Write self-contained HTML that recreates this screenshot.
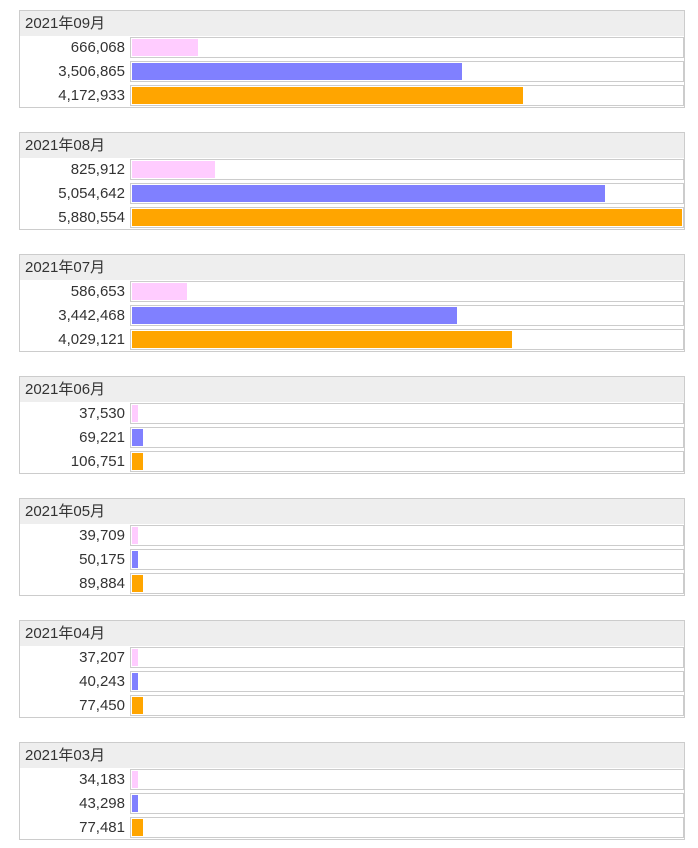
<!DOCTYPE html>
<html><head><meta charset="utf-8"><style>
body{margin:0;background:#fff;font-family:"Liberation Sans","Noto Sans CJK JP",sans-serif;color:#333;}
.g{position:absolute;left:19px;width:664px;height:96px;border:1px solid #ccc;}
.h{position:absolute;left:0;top:0;width:664px;height:25px;background:#eee;font-size:15px;line-height:25px;padding-left:5px;box-sizing:border-box;}
.lab{position:absolute;right:559px;font-size:15px;line-height:24px;text-align:right;white-space:nowrap;}
.tr{position:absolute;left:110px;width:552px;height:19px;border:1px solid #ccc;background:#fff;}
.b{position:absolute;left:1px;top:1px;height:17px;}
</style></head><body>
<div id="root"></div>
<script>
const months=["2021年09月","2021年08月","2021年07月","2021年06月","2021年05月","2021年04月","2021年03月"];
const seriesA=[666068,825912,586653,37530,39709,37207,34183];
const seriesB=[3506865,5054642,3442468,69221,50175,40243,43298];
const seriesC=[4172933,5880554,4029121,106751,89884,77450,77481];
const colors=["#ffccff","#8080ff","#ffa500"];
const maxV=Math.max(...seriesA,...seriesB,...seriesC);
const W=550;
const root=document.getElementById('root');
months.forEach((m,i)=>{
  const g=document.createElement('div');g.className='g';g.style.top=(10+122*i)+'px';
  
  
  const h=document.createElement('div');h.className='h';h.textContent=m;
  
  
  g.appendChild(h);
  [seriesA,seriesB,seriesC].forEach((s,j)=>{
    const v=s[i];const top=25+24*j;
    const l=document.createElement('div');l.className='lab';l.style.top=top+'px';l.textContent=v.toLocaleString('en-US');
    
    
    g.appendChild(l);
    const t=document.createElement('div');t.className='tr';t.style.top=(top+1)+'px';
    
    
    const b=document.createElement('div');b.className='b';b.style.background=colors[j];
    const pct=Math.ceil(v/maxV*100-1e-9);
    b.style.width=Math.round(pct*W/100)+'px';
    
    
    t.appendChild(b);g.appendChild(t);
  });
  root.appendChild(g);
});
</script>
</body></html>
